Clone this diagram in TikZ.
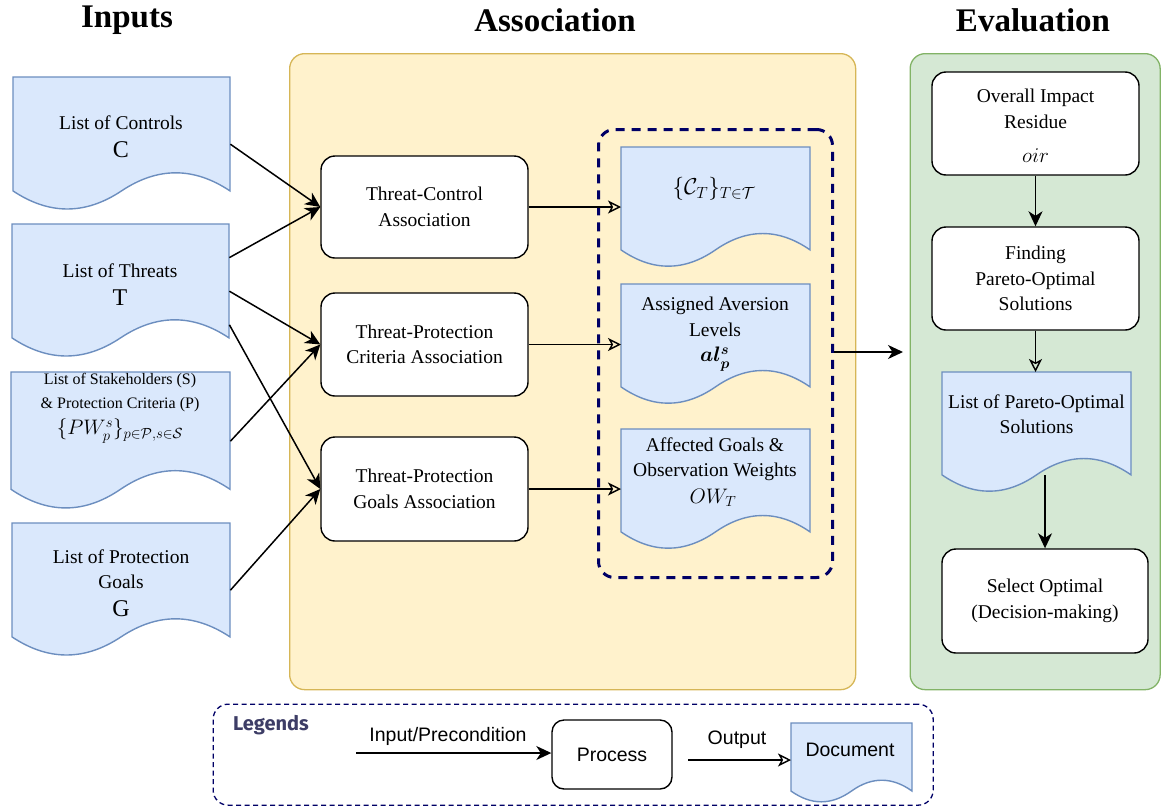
\RequirePackage{fix-cm}
\documentclass[tikz,border=0pt]{standalone}
\usepackage{amsmath}
\usepackage{fontspec}
\setmainfont{Liberation Serif}
\setsansfont{Liberation Sans}
\newfontfamily\legfont{Fira Sans}
\usetikzlibrary{arrows.meta,calc}
\definecolor{docfill}{HTML}{DAE8FC}
\definecolor{docline}{HTML}{6C8EBF}
\definecolor{yfill}{HTML}{FFF2CC}
\definecolor{yline}{HTML}{D6B656}
\definecolor{gfill}{HTML}{D5E8D4}
\definecolor{gline}{HTML}{82B366}
\definecolor{navy}{HTML}{000066}
\definecolor{legcol}{HTML}{3D3D66}
\tikzset{
  txt/.style={font=\fontsize{19.5}{25.5}\selectfont, align=center, inner sep=0pt},
  smalltxt/.style={font=\fontsize{16}{24}\selectfont, align=center, inner sep=0pt},
  bigtxt/.style={font=\fontsize{24}{28}\selectfont, inner sep=0pt},
  ttl/.style={font=\bfseries\fontsize{33}{40}\selectfont, inner sep=0pt},
  proc/.style={draw=black, fill=white, rounded corners=14pt, line width=1.4pt, txt},
  docstyle/.style={draw=docline, fill=docfill, line width=1.4pt},
  inarrow/.style={-{Stealth[length=15pt,width=14pt,inset=4.5pt]}, line width=1.5pt},
  outarrow/.style={-{Stealth[open,length=13pt,width=13pt,inset=3.5pt,line width=1.4pt]}, line width=1.4pt},
  legtxt/.style={font=\sffamily\fontsize{19.5}{23}\selectfont, inner sep=0pt},
}
\newcommand{\docshape}[5]{%
  \node[inner sep=0pt, minimum width=#4pt, minimum height=#5pt, anchor=north west] (#1) at (#2,#3) {};
  \draw[docstyle, shift={(#2,#3)}] (0,0) -- (#4,0) -- (#4,0.85*#5)
    .. controls (0.8333*#4,0.67*#5) and (0.6667*#4,0.67*#5) .. (0.5*#4,0.85*#5)
    .. controls (0.3333*#4,1.03*#5) and (0.1667*#4,1.03*#5) .. (0,0.85*#5) -- cycle;
}
\begin{document}
\begin{tikzpicture}[x=1pt,y=-1pt]
\useasboundingbox (0,0) rectangle (1161,809);

% titles
\node[ttl] at (127,20) {Inputs};
\node[ttl] at (555,20) {Association};
\node[ttl] at (1033,20) {Evaluation};

% panels
\node[draw=yline, fill=yfill, line width=1.3pt, rounded corners=15pt, minimum width=566pt, minimum height=636pt, anchor=north west] (assoc) at (289,53) {};
\node[draw=gline, fill=gfill, line width=1.3pt, rounded corners=15pt, minimum width=250pt, minimum height=636pt, anchor=north west] (evalp) at (909.5,53) {};

% input documents
\docshape{docC}{13}{77}{217}{134}
\node[txt] at (121,123) {List of Controls};
\node[bigtxt] at (121,150) {C};
\docshape{docT}{12}{224}{217}{134}
\node[txt] at (120,271) {List of Threats};
\node[bigtxt] at (120,298) {T};
\docshape{docSP}{11}{372}{219}{138}
\node[smalltxt] at (120,393) {List of Stakeholders (S)\\\& Protection Criteria (P)};
\node[font=\fontsize{21}{24}\selectfont, inner sep=0pt] at (120,431) {$\{PW_p^s\}_{p\in\mathcal{P},s\in\mathcal{S}}$};
\docshape{docG}{12}{523}{218}{134}
\node[txt] at (121,569) {List of Protection\\Goals};
\node[bigtxt] at (121,609) {G};

% process boxes
\node[proc, minimum width=207pt, minimum height=102pt] (tc) at (424.5,207) {Threat-Control\\Association};
\node[proc, minimum width=207pt, minimum height=103pt] (tpc) at (424.5,344.5) {Threat-Protection\\Criteria Association};
\node[proc, minimum width=207pt, minimum height=104pt] (tpg) at (424.5,489) {Threat-Protection\\Goals Association};

% dashed container
\node[draw=navy, line width=3pt, dash pattern=on 9pt off 7pt, rounded corners=16pt, minimum width=234pt, minimum height=448pt, anchor=north west] (dbox) at (597,128) {};

% output documents
\docshape{oC}{621}{147}{189}{121}
\node[font=\fontsize{23}{26}\selectfont, inner sep=0pt] at (714,189) {$\{\mathcal{C}_T\}_{T\in\mathcal{T}}$};
\docshape{oAL}{621}{284}{189}{121}
\node[txt] at (715,317) {Assigned Aversion\\Levels};
\node[font=\fontsize{21}{24}\selectfont, inner sep=0pt] at (715,359) {$\boldsymbol{al_p^s}$};
\docshape{oOW}{621}{429}{189}{121}
\node[txt] at (715,459) {Affected Goals \&\\Observation Weights};
\node[font=\fontsize{21}{24}\selectfont, inner sep=0pt] at (713,498) {$OW_T$};

% evaluation
\node[proc, minimum width=207pt, minimum height=103pt] (oir) at (1035.5,123.5) {};
\node[txt] at (1035.5,109) {Overall Impact\\Residue};
\node[font=\fontsize{21}{24}\selectfont, inner sep=0pt] at (1035.5,156) {$oir$};
\node[proc, minimum width=207pt, minimum height=103pt] (find) at (1035.5,278.5) {Finding\\Pareto-Optimal\\Solutions};
\docshape{pareto}{942}{372}{189}{121}
\node[txt] at (1036.5,414) {List of Pareto-Optimal\\Solutions};
\node[proc, minimum width=206pt, minimum height=104pt] (sel) at (1045,601) {Select Optimal\\(Decision-making)};

% connectors: inputs to processes
\draw[inarrow] (docC.east) -- (tc.west);
\draw[inarrow] ($(docT.east)!0.5!(docT.north east)$) -- (tc.west);
\draw[inarrow] (docT.east) -- (tpc.west);
\draw[inarrow] ($(docT.east)!0.5!(docT.south east)$) -- (tpg.west);
\draw[inarrow] (docSP.east) -- (tpc.west);
\draw[inarrow] (docG.east) -- (tpg.west);

% processes to outputs
\draw[outarrow] (tc.east) -- (tc.east -| oC.west);
\draw[outarrow] (tpc.east) -- (tpc.east -| oAL.west);
\draw[outarrow] (tpg.east) -- (tpg.east -| oOW.west);

% to evaluation
\coordinate (evin) at (903,352);
\draw[inarrow] (dbox.east |- evin) -- (evin);

% evaluation flow
\draw[inarrow] (oir.south) -- (find.north);
\draw[outarrow] (find.south) -- (find.south |- pareto.north);
\coordinate (pout) at ($(sel.north |- pareto.south)+(0,-18)$);
\draw[inarrow] (pout) -- (sel.north);

% legend
\node[draw=navy, line width=1.3pt, dash pattern=on 5pt off 3.5pt, rounded corners=15pt, minimum width=720pt, minimum height=101pt, anchor=north west] (leg) at (212.5,703.5) {};
\node[font=\legfont\bfseries\fontsize{20}{24}\selectfont, text=legcol, inner sep=0pt] at (271,725) {Legends};
\node[draw=black, fill=white, rounded corners=12pt, line width=1.4pt, minimum width=120pt, minimum height=69pt, legtxt] (lproc) at (612,754.5) {Process};
\coordinate (lin) at (356,753);
\draw[inarrow] (lin) -- (lin -| lproc.west);
\node[legtxt] at (448,736) {Input/Precondition};
\docshape{ldoc}{791}{723}{121}{80}
\node[legtxt] at (850,750) {Document};
\coordinate (lout) at (688,760);
\draw[outarrow] (lout) -- (lout -| ldoc.west);
\node[legtxt] at (737,740) {Output};
\end{tikzpicture}
\end{document}
